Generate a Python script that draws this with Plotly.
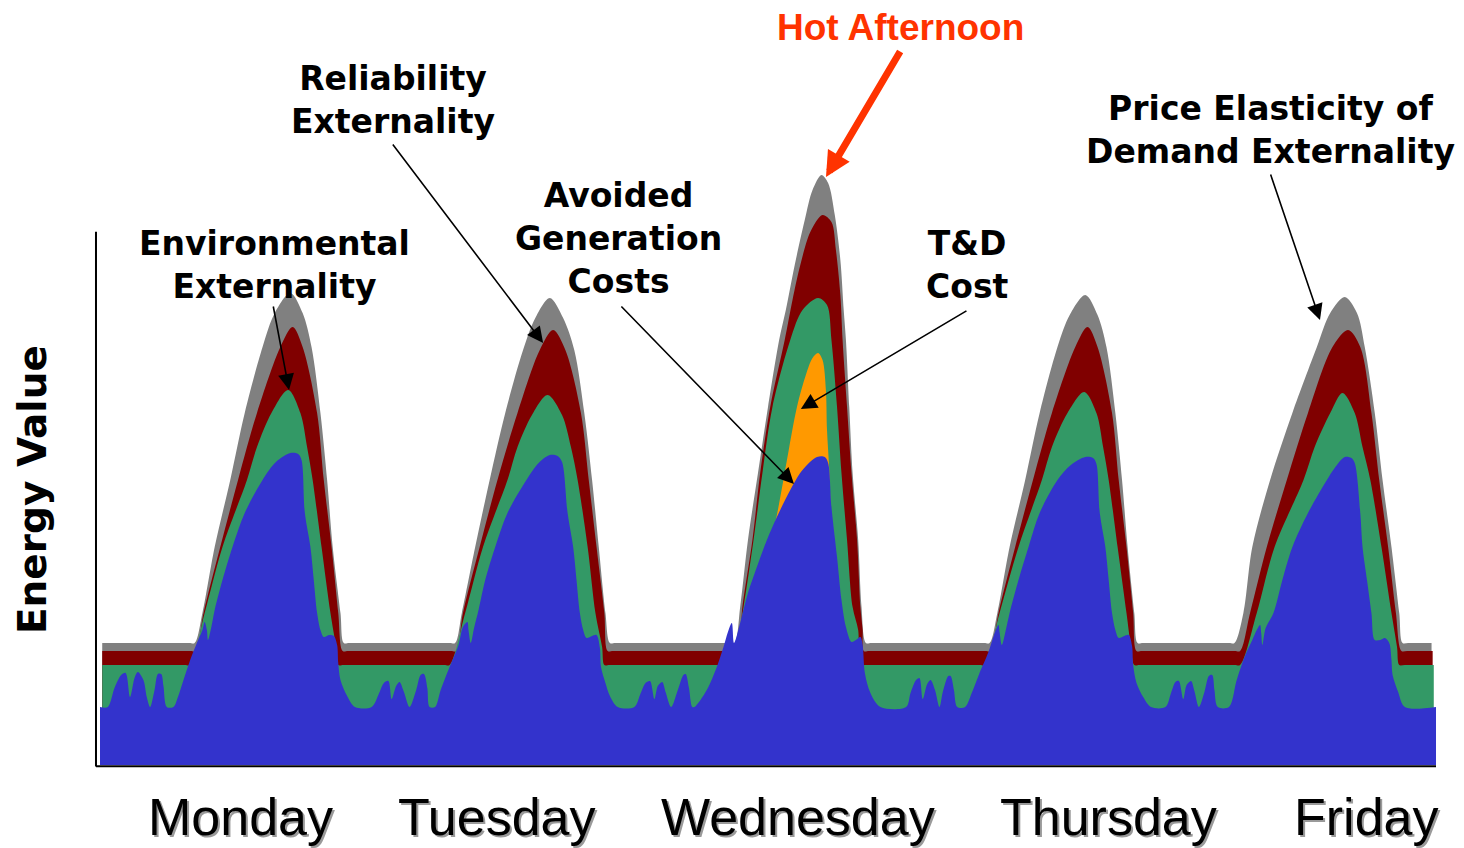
import plotly.graph_objects as go

# Time axis: hours since Monday 00:00. Values: cumulative energy value (top of each stacked layer).

# Price elasticity of demand externality (top of full stack)
PED_T = [0.2, 8.0, 8.5, 9.2, 10.3, 11.7, 13.0, 14.6, 15.7, 17.1, 18.2, 19.0, 19.8, 20.4, 20.9, 21.6, 21.9, 22.4,
         31.4, 31.9, 32.5, 33.7, 35.0, 36.4, 38.0, 39.1, 40.4, 41.6, 42.6, 43.5, 44.2, 44.8, 45.4, 45.8, 46.3,
         56.5, 57.0, 57.5, 58.2, 59.1, 60.0, 61.0, 61.6, 62.4, 63.3, 64.0, 64.8, 65.4, 66.0, 66.5, 66.8, 67.0,
         67.3, 67.6, 68.1, 68.4, 68.8, 69.3,
         79.4, 79.9, 80.6, 81.7, 83.1, 84.4, 86.0, 87.1, 88.5, 89.6, 90.4, 91.2, 91.8, 92.3, 92.9, 93.2, 93.7,
         101.4, 101.9, 102.7, 103.5, 105.1, 107.1, 109.3, 110.5, 111.8, 112.9, 113.6, 114.5, 115.2, 116.0, 116.7, 117.0, 117.5, 119.6]
PED_V = [1.22, 1.22, 1.22, 1.52, 2.18, 2.85, 3.52, 4.18, 4.52, 4.72, 4.52, 4.18, 3.52, 2.85, 2.18, 1.52, 1.22, 1.22,
         1.22, 1.22, 1.52, 2.18, 2.85, 3.52, 4.15, 4.47, 4.67, 4.47, 4.15, 3.52, 2.85, 2.18, 1.52, 1.22, 1.22,
         1.22, 1.22, 1.58, 2.25, 2.92, 3.58, 4.25, 4.55, 5.00, 5.45, 5.75, 5.90, 5.82, 5.50, 5.05, 4.55, 4.25,
         3.58, 2.92, 2.25, 1.58, 1.22, 1.22,
         1.22, 1.22, 1.52, 2.18, 2.85, 3.52, 4.18, 4.50, 4.70, 4.50, 4.18, 3.52, 2.85, 2.18, 1.52, 1.22, 1.22,
         1.22, 1.22, 1.52, 2.18, 2.85, 3.52, 4.18, 4.52, 4.68, 4.52, 4.18, 3.52, 2.85, 2.18, 1.52, 1.22, 1.22, 1.22]

# Reliability externality
REL_T = [0.2, 8.1, 8.6, 9.3, 10.8, 12.4, 14.1, 16.2, 17.3, 18.2, 19.5, 20.1, 20.8, 21.4, 21.8, 22.3,
         31.5, 32.0, 32.6, 34.1, 35.7, 37.5, 39.5, 40.7, 41.8, 43.2, 43.9, 44.6, 45.3, 45.6, 46.1,
         56.8, 57.3, 57.7, 58.6, 59.3, 60.2, 61.5, 62.2, 62.9, 63.8, 64.9, 65.7, 66.1, 66.5, 66.7, 67.1, 67.5,
         68.0, 68.3, 68.5, 68.6, 69.1,
         79.5, 80.0, 80.7, 82.2, 83.8, 85.5, 87.6, 88.7, 89.6, 90.9, 91.5, 92.2, 92.8, 93.1, 93.6,
         101.9, 102.4, 103.3, 104.8, 106.6, 108.5, 110.7, 112.1, 113.2, 114.2, 114.9, 115.7, 116.4, 116.9, 117.4, 119.7]
REL_V = [1.14, 1.14, 1.14, 1.52, 2.18, 2.85, 3.52, 4.18, 4.38, 4.18, 3.52, 2.85, 2.18, 1.52, 1.14, 1.14,
         1.14, 1.14, 1.52, 2.18, 2.85, 3.52, 4.15, 4.35, 4.15, 3.52, 2.85, 2.18, 1.52, 1.14, 1.14,
         1.14, 1.14, 1.58, 2.25, 2.92, 3.58, 4.25, 4.65, 5.00, 5.33, 5.50, 5.43, 5.15, 4.70, 4.25, 3.58, 2.92,
         2.25, 1.58, 1.35, 1.14, 1.14,
         1.14, 1.14, 1.52, 2.18, 2.85, 3.52, 4.18, 4.38, 4.18, 3.52, 2.85, 2.18, 1.52, 1.14, 1.14,
         1.14, 1.14, 1.52, 2.18, 2.85, 3.52, 4.18, 4.35, 4.18, 3.52, 2.85, 2.18, 1.52, 1.14, 1.14, 1.14]

# Environmental externality
ENV_T = [0.2, 7.6, 8.1, 9.4, 11.0, 13.2, 14.1, 15.4, 16.9, 18.0, 18.6, 19.1, 19.9, 20.7, 21.2, 21.4, 21.9,
         30.9, 31.4, 32.8, 34.4, 36.6, 37.5, 38.8, 40.2, 41.5, 42.3, 42.9, 43.8, 44.5, 45.1, 45.3, 45.8,
         56.4, 56.9, 57.2, 57.8, 58.7, 59.5, 60.4, 62.0, 63.1, 64.5, 65.3, 65.7, 66.2, 66.6, 67.1, 67.6, 68.1,
         68.3, 68.8,
         79.0, 79.5, 80.8, 82.5, 84.6, 85.5, 86.9, 88.4, 89.5, 90.1, 90.6, 91.4, 92.2, 92.6, 92.9, 93.4,
         101.9, 102.4, 103.9, 105.5, 108.1, 109.1, 110.5, 111.6, 112.7, 113.4, 114.1, 115.1, 116.0, 116.5, 116.7, 117.2, 119.8]
ENV_V = [1.00, 1.00, 1.00, 1.52, 2.18, 2.85, 3.18, 3.52, 3.75, 3.52, 3.18, 2.85, 2.18, 1.52, 1.18, 1.00, 1.00,
         1.00, 1.00, 1.52, 2.18, 2.85, 3.18, 3.50, 3.70, 3.50, 3.18, 2.85, 2.18, 1.52, 1.18, 1.00, 1.00,
         1.00, 1.00, 1.22, 1.58, 2.25, 2.92, 3.58, 4.25, 4.55, 4.67, 4.60, 4.25, 3.58, 2.92, 2.25, 1.58, 1.35,
         1.00, 1.00,
         1.00, 1.00, 1.52, 2.18, 2.85, 3.18, 3.52, 3.73, 3.52, 3.18, 2.85, 2.18, 1.52, 1.18, 1.00, 1.00,
         1.00, 1.00, 1.52, 2.18, 2.85, 3.18, 3.52, 3.72, 3.52, 3.18, 2.85, 2.18, 1.52, 1.18, 1.00, 1.00, 1.00]

# T&D cost (only on the hot Wednesday afternoon)
TD_T = [60.2, 60.7, 61.5, 62.6, 63.4, 64.0, 64.5, 64.9, 65.2, 65.3, 65.5, 65.7]
TD_V = [2.25, 2.45, 2.92, 3.58, 3.90, 4.07, 4.12, 4.05, 3.75, 3.35, 2.95, 2.25]

# Avoided generation costs (base layer)
GEN_T = [0.0, 0.7, 1.3, 1.9, 2.3, 2.7, 3.1, 3.4, 3.9, 4.2, 4.5, 4.9, 5.2, 5.5, 5.7, 6.0, 6.6, 7.0, 7.5, 8.1, 8.7,
         9.2, 9.4, 9.6, 9.7, 10.0, 10.3, 11.0, 11.9, 13.0, 14.6, 15.8, 17.1, 17.8, 18.1, 18.4, 18.9, 19.2, 19.5,
         19.8, 20.1, 20.6, 21.0, 21.3, 21.4, 21.6, 22.2, 22.9,
         24.4, 25.0, 25.5, 25.9, 26.2, 26.6, 26.9, 27.3, 27.8, 28.4, 28.8, 29.1, 29.4, 29.6, 30.1, 30.6, 31.4,
         32.2, 32.6, 33.0, 33.1, 33.3, 33.6, 34.0, 34.6, 35.5, 36.6, 38.3, 39.4, 40.4, 41.1, 41.5, 42.0, 42.5,
         42.8, 43.1, 43.4, 43.7, 44.2, 44.6, 44.9, 45.0, 45.4, 45.8, 46.5,
         48.0, 48.5, 49.0, 49.4, 49.8, 50.1, 50.5, 50.8, 51.3, 51.9, 52.4, 52.6, 52.9, 53.2, 53.4, 54.5, 55.4,
         56.0, 56.4, 56.75, 56.95, 57.5, 58.2, 59.0, 59.9, 60.8, 62.0, 63.1, 64.4, 65.1, 65.4, 65.7, 66.2,
         66.6, 67.0, 67.5, 67.9, 68.3, 68.5, 68.7, 69.2, 70.1,
         72.4, 72.8, 73.3, 73.6, 73.9, 74.3, 74.6, 75.0, 75.4, 75.7, 76.2, 76.4, 76.7, 77.0, 77.7, 78.3, 79.0,
         79.8, 80.3, 80.7, 80.8, 81.0, 81.4, 81.7, 82.5, 83.4, 84.4, 86.0, 87.2, 88.5, 89.2, 89.5, 89.8, 90.3,
         90.6, 90.9, 91.2, 91.5, 92.0, 92.4, 92.7, 92.8, 93.1, 93.7, 94.4,
         95.7, 96.2, 96.6, 96.9, 97.3, 97.6, 98.0, 98.3, 98.7, 99.2, 99.6, 99.9, 100.1, 100.4, 101.4, 102.1,
         102.8, 103.5, 103.9, 104.2, 104.3, 104.4, 104.7, 105.4, 106.2, 107.1, 108.5, 110.2, 110.9, 111.8, 112.4,
         112.7, 113.2, 113.4, 113.8, 114.2, 114.5, 115.0, 115.4, 115.8, 116.0, 116.1, 116.6, 117.2, 120.0]
GEN_V = [0.58, 0.58, 0.77, 0.90, 0.92, 0.68, 0.87, 0.93, 0.85, 0.68, 0.58, 0.75, 0.91, 0.91, 0.79, 0.58, 0.58, 0.68, 0.85, 1.05, 1.22,
         1.35, 1.43, 1.35, 1.25, 1.38, 1.55, 1.85, 2.18, 2.52, 2.85, 3.03, 3.12, 3.11, 3.05, 2.52, 2.18, 1.85, 1.52,
         1.35, 1.28, 1.30, 1.29, 1.20, 1.02, 0.85, 0.69, 0.58,
         0.58, 0.70, 0.82, 0.84, 0.66, 0.79, 0.83, 0.73, 0.58, 0.75, 0.90, 0.91, 0.77, 0.58, 0.58, 0.75, 0.98,
         1.20, 1.38, 1.43, 1.35, 1.22, 1.37, 1.55, 1.85, 2.18, 2.52, 2.85, 3.02, 3.10, 3.09, 3.03, 2.52, 2.18,
         1.85, 1.52, 1.35, 1.27, 1.29, 1.30, 1.17, 0.98, 0.82, 0.69, 0.58,
         0.58, 0.70, 0.82, 0.84, 0.66, 0.79, 0.83, 0.73, 0.58, 0.75, 0.90, 0.91, 0.77, 0.58, 0.58, 0.75, 0.98,
         1.18, 1.33, 1.42, 1.22, 1.42, 1.72, 1.98, 2.25, 2.48, 2.75, 2.95, 3.08, 3.08, 3.02, 2.58, 2.08,
         1.65, 1.38, 1.23, 1.25, 1.28, 1.20, 0.92, 0.72, 0.58,
         0.58, 0.72, 0.85, 0.87, 0.66, 0.81, 0.85, 0.75, 0.58, 0.73, 0.89, 0.89, 0.75, 0.58, 0.58, 0.72, 0.92,
         1.13, 1.30, 1.40, 1.33, 1.20, 1.37, 1.52, 1.85, 2.18, 2.52, 2.85, 3.00, 3.08, 3.07, 3.01, 2.52, 2.18,
         1.85, 1.52, 1.35, 1.27, 1.29, 1.30, 1.19, 1.00, 0.82, 0.68, 0.58,
         0.58, 0.72, 0.83, 0.84, 0.66, 0.80, 0.84, 0.74, 0.58, 0.73, 0.89, 0.90, 0.75, 0.58, 0.58, 0.85,
         1.08, 1.25, 1.35, 1.40, 1.32, 1.20, 1.37, 1.52, 1.85, 2.18, 2.52, 2.85, 2.97, 3.08, 3.07,
         3.02, 2.52, 2.18, 1.85, 1.52, 1.25, 1.25, 1.27, 1.22, 1.05, 0.90, 0.73, 0.58, 0.58]

DAYS = ["Monday", "Tuesday", "Wednesday", "Thursday", "Friday"]
DAY_LABEL_HOURS = [12.6, 35.7, 62.7, 90.6, 113.7]

LAYERS = [
    ("Price Elasticity of Demand Externality", PED_T, PED_V, "#808080"),
    ("Reliability Externality", REL_T, REL_V, "#800000"),
    ("Environmental Externality", ENV_T, ENV_V, "#339966"),
    ("T&D Cost", TD_T, TD_V, "#FF9900"),
    ("Avoided Generation Costs", GEN_T, GEN_V, "#3333CC"),
]

fig = go.Figure()
for name, t, v, color in LAYERS:
    fig.add_trace(go.Scatter(
        x=t, y=v, name=name, mode="lines", fill="tozeroy", fillcolor=color,
        line=dict(width=0, color=color, shape="spline", smoothing=0.9),
        hoverinfo="skip",
    ))

CALLOUT_FONT = dict(family="DejaVu Sans", size=33, color="black")
annotations = []

# Callout labels
for text, x, y in [
    ("<b>Environmental<br>Externality</b>", 15.7, 5.0),
    ("<b>Reliability<br>Externality</b>", 26.3, 6.65),
    ("<b>Avoided<br>Generation<br>Costs</b>", 46.6, 5.27),
    ("<b>T&amp;D<br>Cost</b>", 77.9, 5.0),
    ("<b>Price Elasticity of<br>Demand Externality</b>", 105.1, 6.35),
]:
    annotations.append(dict(x=x, y=y, xref="x", yref="y", text=text, showarrow=False,
                            font=CALLOUT_FONT, xanchor="center", yanchor="middle"))

annotations.append(dict(x=71.9, y=7.38, xref="x", yref="y", text="<b>Hot Afternoon</b>",
                        showarrow=False, font=dict(family="Liberation Sans", size=37, color="#FF3300"),
                        xanchor="center", yanchor="middle"))

# Pointer arrows: (tip x, tip y, tail x, tail y)
for tx, ty, sx, sy in [
    (16.98, 3.75, 15.54, 4.60),
    (39.8, 4.22, 26.2, 6.22),
    (62.33, 2.81, 46.7, 4.60),
    (62.95, 3.56, 77.96, 4.55),
    (109.58, 4.45, 105.1, 5.92),
]:
    annotations.append(dict(x=tx, y=ty, ax=sx, ay=sy, xref="x", yref="y", axref="x", ayref="y",
                            text="", showarrow=True, arrowhead=2, arrowsize=2, arrowwidth=1.6,
                            arrowcolor="black", standoff=0))

annotations.append(dict(x=65.21, y=5.88, ax=71.95, ay=7.15, xref="x", yref="y", axref="x", ayref="y",
                        text="", showarrow=True, arrowhead=2, arrowsize=0.72, arrowwidth=7,
                        arrowcolor="#FF3300", standoff=0))

# Day labels with drop shadow
for day, h in zip(DAYS, DAY_LABEL_HOURS):
    for color, dx, dy in [("#9a9a9a", 2, -2), ("black", 0, 0)]:
        annotations.append(dict(x=h, y=-0.0686, xref="x", yref="paper", text=day, showarrow=False,
                                font=dict(family="Liberation Sans", size=52, color=color),
                                xanchor="center", yanchor="middle", xshift=dx, yshift=dy))

# Y axis title
annotations.append(dict(x=-0.0501, y=0.3595, xref="paper", yref="paper", text="<b>Energy Value</b>",
                        showarrow=False, textangle=-90,
                        font=dict(family="DejaVu Sans", size=39, color="black"),
                        xanchor="center", yanchor="middle"))

shapes = [
    dict(type="line", xref="paper", yref="paper", x0=-0.003, x1=-0.003, y0=-0.002, y1=0.697,
         line=dict(color="black", width=2)),
    dict(type="line", xref="paper", yref="paper", x0=-0.003, x1=1.0, y0=-0.0015, y1=-0.0015,
         line=dict(color="black", width=2)),
]

fig.update_layout(
    width=1464, height=848,
    margin=dict(l=100, r=28, t=0, b=83),
    paper_bgcolor="white", plot_bgcolor="white",
    showlegend=False,
    xaxis=dict(range=[0, 120], visible=False),
    yaxis=dict(range=[0, 7.65], visible=False),
    annotations=annotations,
    shapes=shapes,
)

fig.write_html("out.html")
